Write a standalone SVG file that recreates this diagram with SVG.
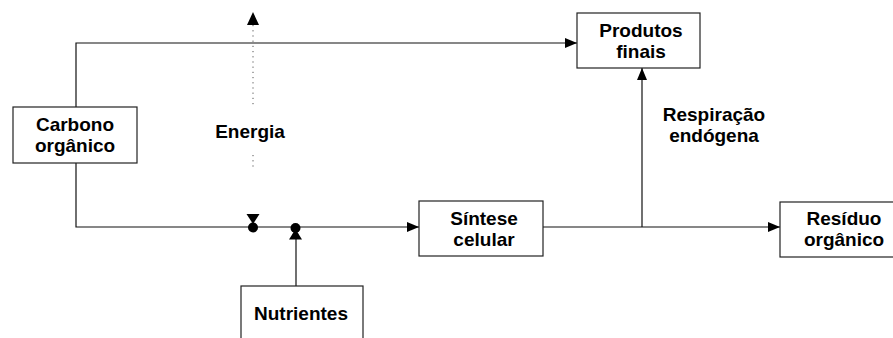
<svg xmlns="http://www.w3.org/2000/svg" width="893" height="338" viewBox="0 0 893 338">
<defs>
<style>
.box{fill:#fff;stroke:#222;stroke-width:1.2}
.ln{fill:none;stroke:#111;stroke-width:1.2}
.dot{fill:none;stroke:#555;stroke-width:1;stroke-dasharray:1.2 4}
.t{font-family:"Liberation Sans",Arial,sans-serif;font-weight:bold;font-size:19px;fill:#000;text-anchor:middle}
.blk{fill:#000}
</style>
<marker id="ah" viewBox="0 0 12 10" refX="12" refY="5" markerWidth="12" markerHeight="10" markerUnits="userSpaceOnUse" orient="auto">
<path d="M0,0 L12,5 L0,10 z" fill="#000"/>
</marker>
</defs>
<rect width="893" height="338" fill="#fff"/>
<g id="connectors">
<path class="ln" d="M76,107 V43 H577" marker-end="url(#ah)"/>
<path class="ln" d="M76,163 V227 H419" marker-end="url(#ah)"/>
<path class="ln" d="M543,227 H780" marker-end="url(#ah)"/>
<path class="ln" d="M642,227 V68" marker-end="url(#ah)"/>
<path class="ln" d="M296,286 V239"/>
<path class="dot" d="M253,25 V108"/>
<path class="dot" d="M253,155 V168"/>
<path class="blk" d="M247,25 L259,25 L253,12 z"/>
<path class="blk" d="M246.5,214 L259.5,214 L253,224 z"/>
<circle class="blk" cx="253" cy="227.5" r="5"/>
<path class="blk" d="M289,239.5 L302,239.5 L295.5,229 z"/>
<circle class="blk" cx="295.5" cy="228" r="5"/>
</g>
<g id="energia">
<text class="t" x="250" y="138">Energia</text>
</g>
<g id="respiracao">
<text class="t" x="714" y="121">Respiração</text>
<text class="t" x="714" y="142">endógena</text>
</g>
<g id="carbono">
<rect class="box" x="13" y="107" width="124" height="56"/>
<text class="t" x="75" y="131">Carbono</text>
<text class="t" x="75" y="152">orgânico</text>
</g>
<g id="produtos">
<rect class="box" x="577" y="13" width="123" height="55"/>
<text class="t" x="641" y="37">Produtos</text>
<text class="t" x="641" y="58">finais</text>
</g>
<g id="sintese">
<rect class="box" x="419" y="201" width="124" height="55"/>
<text class="t" x="484" y="225">Síntese</text>
<text class="t" x="484" y="246">celular</text>
</g>
<g id="residuo">
<rect class="box" x="780" y="202" width="130" height="55"/>
<text class="t" x="844" y="225">Resíduo</text>
<text class="t" x="844" y="246">orgânico</text>
</g>
<g id="nutrientes">
<rect class="box" x="241" y="286" width="122" height="70"/>
<text class="t" x="301" y="320">Nutrientes</text>
</g>
</svg>
